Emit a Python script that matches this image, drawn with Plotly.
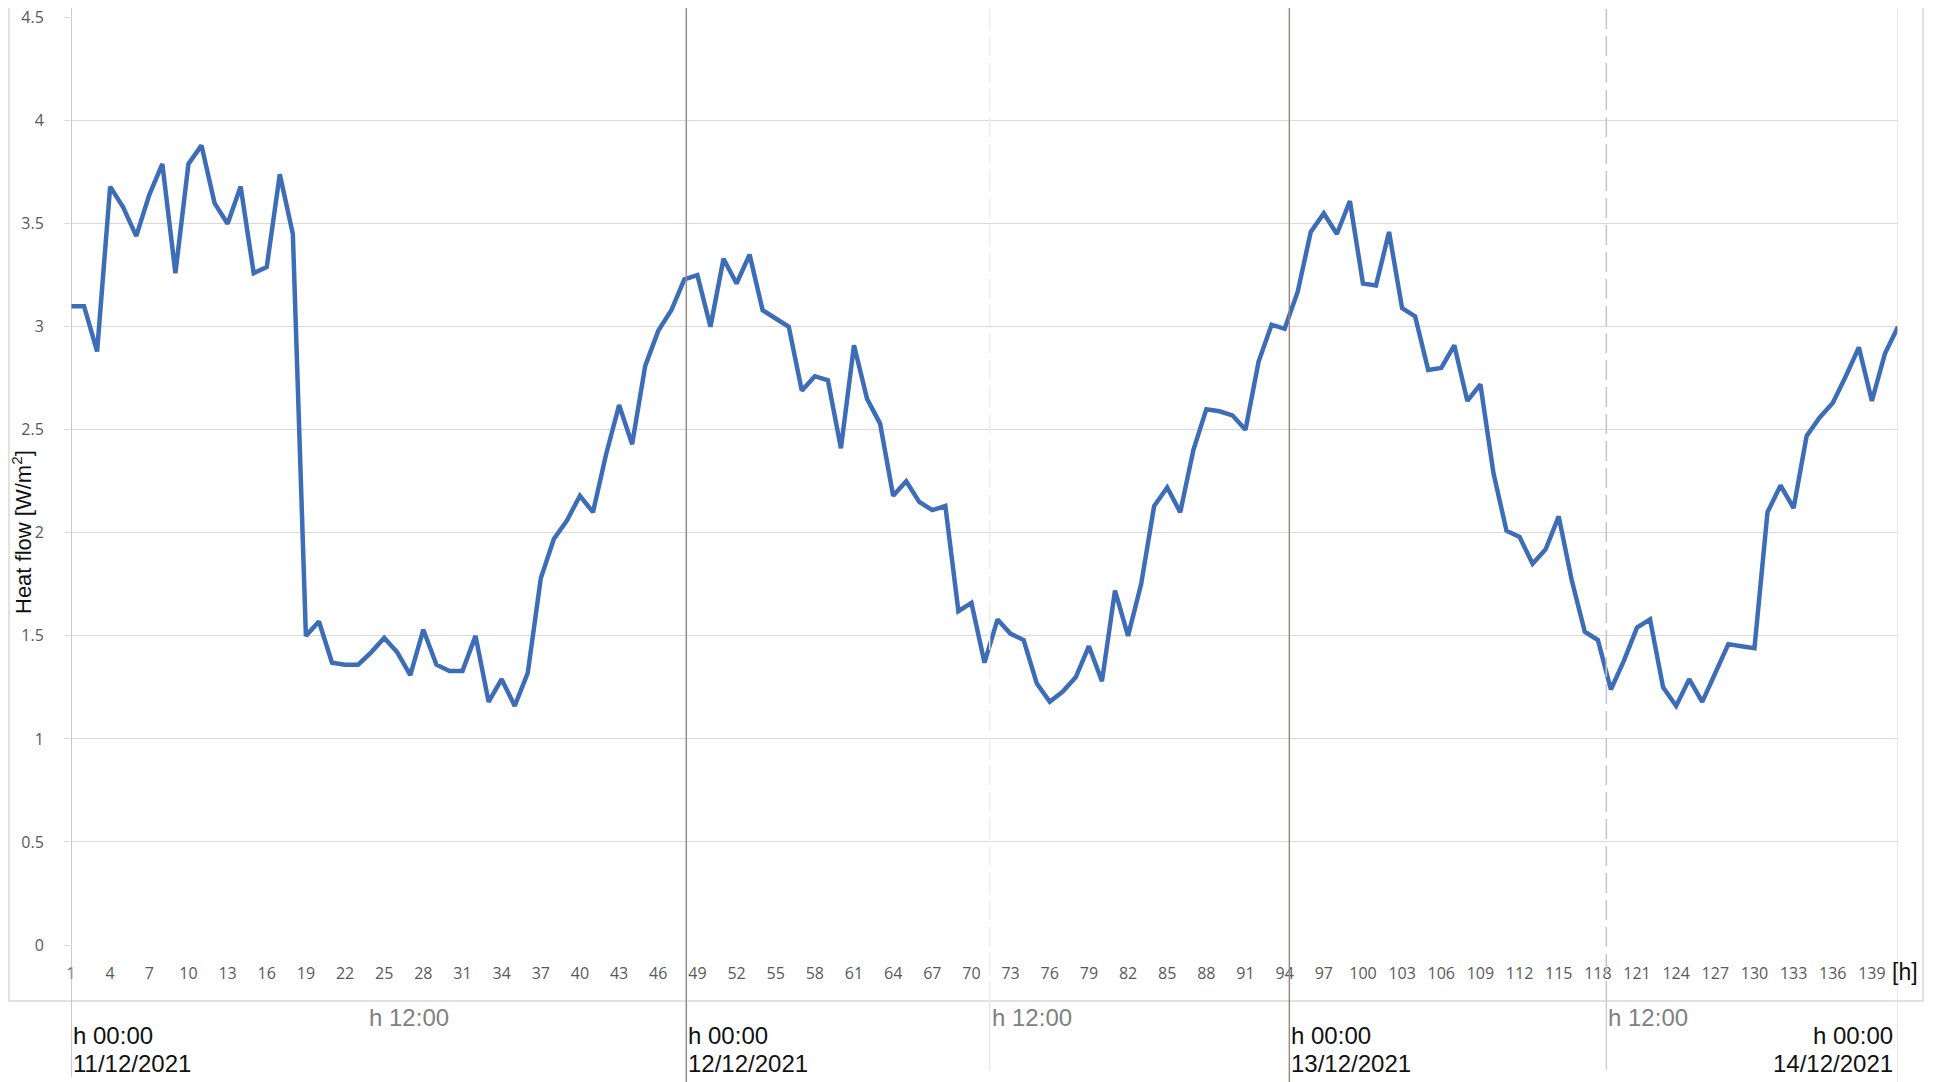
import plotly.graph_objects as go

hours = list(range(1, 142))
heat_flow = [
    3.10, 3.10, 2.88, 3.68, 3.58, 3.44, 3.64, 3.79, 3.26, 3.79,
    3.88, 3.60, 3.50, 3.68, 3.26, 3.29, 3.74, 3.45, 1.50, 1.57,
    1.37, 1.36, 1.36, 1.42, 1.49, 1.42, 1.31, 1.53, 1.36, 1.33,
    1.33, 1.50, 1.18, 1.29, 1.16, 1.32, 1.78, 1.97, 2.06, 2.18,
    2.10, 2.38, 2.62, 2.43, 2.81, 2.98, 3.08, 3.23, 3.25, 3.00,
    3.33, 3.21, 3.35, 3.08, 3.04, 3.00, 2.69, 2.76, 2.74, 2.41,
    2.91, 2.65, 2.53, 2.18, 2.25, 2.15, 2.11, 2.13, 1.62, 1.66,
    1.37, 1.58, 1.51, 1.48, 1.27, 1.18, 1.23, 1.30, 1.45, 1.28,
    1.72, 1.50, 1.75, 2.13, 2.22, 2.10, 2.40, 2.60, 2.59, 2.57,
    2.50, 2.83, 3.01, 2.99, 3.17, 3.46, 3.55, 3.45, 3.61, 3.21,
    3.20, 3.46, 3.09, 3.05, 2.79, 2.80, 2.91, 2.64, 2.72, 2.29,
    2.01, 1.98, 1.85, 1.92, 2.08, 1.77, 1.52, 1.48, 1.24, 1.38,
    1.54, 1.58, 1.25, 1.16, 1.29, 1.18, 1.32, 1.46, 1.45, 1.44,
    2.10, 2.23, 2.12, 2.47, 2.56, 2.63, 2.76, 2.90, 2.64, 2.87,
    3.00,
]
x_ticks = list(range(1, 140, 3))
y_ticks = [0, 0.5, 1, 1.5, 2, 2.5, 3, 3.5, 4, 4.5]
y_tick_labels = ["0", "0.5", "1", "1.5", "2", "2.5", "3", "3.5", "4", "4.5"]

midnight_pos = [48.15, 94.36]
noon_pos = [23.7, 71.4, 118.65]
midnight_labels = [(1, "11/12/2021", "left"), (48.15, "12/12/2021", "left"),
                   (94.36, "13/12/2021", "left"), (140.75, "14/12/2021", "right")]

# page geometry (the html body has an 8px margin)
BODY = 8
PAGE_W, PAGE_H = 1941, 1082
X_LEFT, X_RIGHT = 71, 1898      # page px of plot area
Y_TOP, Y_BOTTOM = 17, 945
W, H = PAGE_W - BODY, PAGE_H - BODY
ML = X_LEFT - BODY
MT = Y_TOP - BODY
MR = PAGE_W - X_RIGHT
MB = PAGE_H - Y_BOTTOM
PW = X_RIGHT - X_LEFT
PH = Y_BOTTOM - Y_TOP


def py(p):
    return (Y_BOTTOM - p) / PH


def px(p):
    return (p - X_LEFT) / PW


fig = go.Figure()
fig.add_trace(go.Scatter(
    x=hours, y=heat_flow, mode="lines",
    line=dict(color="#3e6db8", width=4.5),
    hoverinfo="skip", showlegend=False,
))

shapes = []
# outer chart box
shapes.append(dict(type="rect", xref="paper", yref="paper",
                   x0=px(9), x1=px(1923), y0=py(1001), y1=py(-20),
                   line=dict(color="#d9d9d9", width=1.5), layer="below"))
# y-axis line at x=1
shapes.append(dict(type="line", xref="x", yref="paper", x0=1, x1=1,
                   y0=py(1077), y1=py(-5),
                   line=dict(color="#b8abab", width=1.3)))
# midnight lines
for m in midnight_pos:
    shapes.append(dict(type="line", xref="x", yref="paper", x0=m, x1=m,
                       y0=py(1085), y1=py(-5),
                       line=dict(color="#9a8383", width=1.4)))
# right edge faint pink line
shapes.append(dict(type="line", xref="x", yref="paper", x0=141, x1=141,
                   y0=py(1085), y1=py(-5),
                   line=dict(color="#f2d4d4", width=1.3)))
# noon lines (second faint, third dashed)
shapes.append(dict(type="line", xref="x", yref="paper", x0=noon_pos[1], x1=noon_pos[1],
                   y0=py(1001), y1=py(-5),
                   line=dict(color="#ececec", width=1.3, dash="20px,7px")))
shapes.append(dict(type="line", xref="x", yref="paper", x0=noon_pos[1], x1=noon_pos[1],
                   y0=py(1070), y1=py(1001),
                   line=dict(color="#e6e6e6", width=1.3)))
shapes.append(dict(type="line", xref="x", yref="paper", x0=noon_pos[2], x1=noon_pos[2],
                   y0=py(1001), y1=py(-5),
                   line=dict(color="#c4c4c4", width=1.5, dash="20px,7px")))
shapes.append(dict(type="line", xref="x", yref="paper", x0=noon_pos[2], x1=noon_pos[2],
                   y0=py(1070), y1=py(1001),
                   line=dict(color="#cccccc", width=1.3)))

FONT = "Liberation Sans, Arial, sans-serif"
annotations = []
for xpos in noon_pos:
    annotations.append(dict(x=xpos, y=py(1018), xref="x", yref="paper",
                            text="h 12:00", showarrow=False, xanchor="left", yanchor="middle",
                            font=dict(family=FONT, size=24, color="#808080")))
for xpos, date, anchor in midnight_labels:
    annotations.append(dict(x=xpos, y=py(1035), xref="x", yref="paper",
                            text="h 00:00", showarrow=False, xanchor=anchor, yanchor="middle",
                            font=dict(family=FONT, size=24, color="#111111")))
    annotations.append(dict(x=xpos, y=py(1063), xref="x", yref="paper",
                            text=date, showarrow=False, xanchor=anchor, yanchor="middle",
                            font=dict(family=FONT, size=24, color="#111111")))
annotations.append(dict(x=px(1890), y=py(972), xref="paper", yref="paper",
                        text="[h]", showarrow=False, xanchor="left", yanchor="middle",
                        font=dict(family=FONT, size=23, color="#111111")))
annotations.append(dict(x=px(22), y=py(532), xref="paper", yref="paper",
                        text="Heat flow [W/m<sup>2</sup>]", showarrow=False, textangle=-90,
                        xanchor="center", yanchor="middle",
                        font=dict(family=FONT, size=22, color="#111111")))

fig.update_layout(
    width=W, height=H, autosize=False,
    margin=dict(l=ML, r=MR, t=MT, b=MB, pad=0, autoexpand=False),
    paper_bgcolor="white", plot_bgcolor="white",
    shapes=shapes, annotations=annotations,
    xaxis=dict(range=[1, 141], tickmode="array", tickvals=x_ticks,
               ticktext=[str(v) for v in x_ticks], automargin=False,
               showgrid=False, zeroline=False, showline=False,
               ticks="outside", ticklen=14, tickcolor="rgba(0,0,0,0)",
               tickfont=dict(family="Open Sans, sans-serif", size=16, color="#595959")),
    yaxis=dict(range=[0, 4.503], tickmode="array", tickvals=y_ticks, ticktext=y_tick_labels,
               automargin=False,
               showgrid=True, gridcolor="#d9d9d9", gridwidth=1.2,
               zeroline=False, showline=False,
               ticks="outside", ticklen=6, tickcolor="#d9d9d9", tickwidth=1.2,
               ticklabelstandoff=17, ticklabeloverflow="allow",
               tickfont=dict(family="Open Sans, sans-serif", size=16, color="#595959")),
)

fig.write_html("out.html")
